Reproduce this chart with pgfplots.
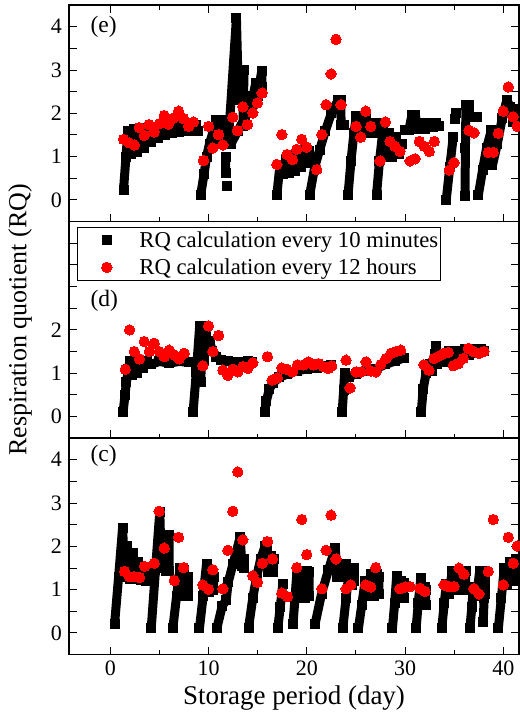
\documentclass[border=0pt]{standalone}
\usepackage{fontspec}
\setmainfont{Liberation Serif}
\usepackage{pgfplots}
\pgfplotsset{compat=1.18}
\pgfplotsset{
  rqpanel/.style={
    scale only axis, width=450pt, height=216.5pt,
    xmin=-4.2, xmax=41.6, ymin=-0.5, ymax=4.5,
    xtick={0,10,20,30,40}, minor xtick={5,15,25,35},
    ytick={0,0.5,1,1.5,2,2.5,3,3.5,4},
    major tick length=8pt, minor tick length=4.5pt,
    tick style={line width=1pt, black},
    axis line style={line width=1.2pt},
    tick align=inside,
    tick label style={font=\fontsize{22pt}{22pt}\selectfont},
    xticklabel style={yshift=-3pt},
    yticklabel style={xshift=-3.5pt},
  },
  blackband/.style={black, line width=9pt, line join=bevel, mark=square*, mark size=4.5pt,
    mark options={solid, line width=0pt, fill=black, draw=black}, unbounded coords=jump},
  reddot/.style={only marks, mark=*, mark size=5.2pt, mark options={fill=red, draw=red, line width=0pt}},
}
\tikzset{panellabel/.style={anchor=base west, font=\fontsize{23.5pt}{23.5pt}\selectfont}}
\begin{document}
\begin{tikzpicture}
\useasboundingbox (-69pt,-61.4pt) rectangle (451pt,654.6pt);
% ---------------- panel (e)
\begin{axis}[rqpanel, at={(0pt,433pt)}, anchor=south west, xtick pos=both,
  xticklabels={}, yticklabels={0,,1,,2,,3,,4}]
\addplot[blackband] coordinates {
(1.35,0.24) (1.6,1.0) (1.8,1.6) (2.1,1.05) (2.4,1.63) (2.75,1.1) (3.1,1.64) (3.45,1.2) (3.8,1.66) (4.15,1.33) (4.5,1.68) (4.85,1.43) (5.2,1.72) (5.55,1.5) (5.9,1.77) (6.25,1.55) (6.6,1.8) (6.95,1.57) (7.3,1.78) (7.65,1.59) (8.0,1.74) (8.35,1.59) (8.7,1.72) (8.9,1.6)
(9,nan)
(9.2,0.12) (9.55,0.6) (9.8,1.0) (10.1,1.3) (10.5,1.6) (10.8,1.85) (11.1,1.3) (11.4,1.85) (11.7,1.3) (12.0,1.3) (12.84,4.2) (13.05,2.3) (13.62,3.0) (13.5,1.7) (14.1,2.4) (14.2,2.0) (14.8,2.7) (14.9,2.3) (15.41,2.97) (15.45,2.6)
(15.5,nan)
(12.3,1.3) (13.0,1.6) (13.7,1.9) (14.4,2.15) (15.0,2.4) (15.45,2.6)
(15.5,nan)
(11.87,0.32)
(11.9,nan)
(11.75,0.62) (11.75,1.0)
(11.8,nan)
(16.95,0.12) (17.25,0.75) (17.6,0.6) (17.9,0.95) (18.2,0.62) (18.5,1.02) (18.8,0.68) (19.1,1.1) (19.4,0.75) (19.7,1.15) (20.0,0.85) (20.25,1.12)
(20.3,nan)
(20.3,0.12) (20.8,0.75) (21.3,1.15) (21.9,1.6) (22.5,2.0) (23.18,2.3) (23.45,2.3) (23.5,1.72) (23.8,1.72)
(23.9,nan)
(24.2,0.12) (24.5,0.9) (24.8,1.55) (25.05,1.93) (25.4,1.6) (25.75,1.93) (26.05,1.93) (26.3,1.55) (26.6,1.77) (26.9,1.55) (27.05,1.77)
(27.1,nan)
(27.1,0.12) (27.4,0.9) (27.75,1.6) (28.05,1.0) (28.35,1.55) (28.7,1.0) (29.05,1.45) (29.4,1.05) (29.72,1.3)
(29.8,nan)
(30.03,1.62) (30.4,1.62) (30.7,1.96) (31.05,1.96) (31.3,1.65) (31.6,1.77) (32.0,1.65) (32.4,1.77) (32.8,1.68) (33.2,1.77) (33.45,1.7)
(33.5,nan)
(34.2,0.01) (34.55,0.75) (34.9,1.45)
(35,nan)
(35.05,1.88) (35.15,2.0)
(35.2,nan)
(36.1,0.1) (36.15,1.2) (36.2,2.19) (36.5,2.19) (36.6,1.92) (37.3,1.92)
(37.4,nan)
(37.47,0.12) (37.9,0.7) (38.3,1.2) (38.8,1.62)
(38.85,nan)
(38.9,0.8) (39.4,1.3) (39.9,1.9) (40.36,2.31) (40.7,2.15) (41.0,1.8) (41.3,2.1) (41.6,1.8)
};
\addplot[reddot] coordinates {
(1.36,1.40) (1.93,1.32) (2.44,1.27) (2.95,1.67) (3.46,1.49) (3.93,1.74) (4.47,1.57) (4.98,1.76) (5.49,1.95) (5.93,1.75) (6.44,1.89) (6.95,2.05) (7.46,1.88) (7.97,1.70) (8.47,1.80) (9.49,0.91) (10.0,1.70) (10.44,1.20) (11.02,1.51) (11.46,1.27) (12.47,1.91) (12.95,1.60) (13.49,2.15) (13.97,1.74) (14.51,2.01) (14.98,2.24) (15.46,2.47) (16.95,0.82) (17.46,1.51) (18.0,1.05) (18.54,0.93) (18.98,1.17) (19.49,1.40) (20.0,1.22) (21.02,0.70) (21.53,1.51) (21.97,2.20) (22.47,2.91) (22.98,3.71) (23.49,2.20) (25.02,1.70) (25.49,1.45) (26.0,2.05) (26.51,1.70) (27.46,0.90) (28.0,1.80) (28.47,1.35) (28.98,1.24) (29.49,1.12) (30.51,0.90) (31.02,0.95) (31.46,1.35) (31.97,1.24) (32.47,1.12) (32.98,1.35) (34.51,0.69) (34.98,0.86) (36.51,1.61) (37.02,1.55) (38.47,1.10) (38.98,1.10) (39.49,1.54) (40.0,2.05) (40.51,2.61) (41.0,1.92) (41.42,1.70)
};
\node[panellabel] at (rel axis cs:0.04,0.875) {(e)};
\end{axis}
% ---------------- panel (d)
\begin{axis}[rqpanel, at={(0pt,216.5pt)}, anchor=south west, xtick pos=left,
  xticklabels={}, yticklabels={0,,1,,2,,,,},
  legend style={at={(rel axis cs:0.0178,0.973)}, anchor=north west, draw=black, line width=0.8pt,
    fill=white, font=\fontsize{22.7pt}{22.7pt}\selectfont, inner xsep=2pt, inner ysep=4pt,
    row sep=9.6pt, nodes={inner sep=0pt, draw=none}},
  legend cell align=left]
\addlegendimage{only marks, mark=square*, mark size=4.5pt, mark options={fill=black, draw=black, line width=0pt},
  legend image code/.code={\path[draw=none,fill=none] (0pt,-4.5pt) rectangle (60pt,4.5pt); \draw[mark repeat=2,mark phase=2] plot coordinates {(0pt,0pt) (27.4pt,0pt) (54.8pt,0pt)};}}
\addlegendentry{RQ calculation every 10 minutes}
\addlegendimage{only marks, mark=*, mark size=5.2pt, mark options={fill=red, draw=red, line width=0pt},
  legend image code/.code={\path[draw=none,fill=none] (0pt,-4.5pt) rectangle (60pt,4.5pt); \draw[mark repeat=2,mark phase=2] plot coordinates {(0pt,0pt) (27.4pt,0pt) (54.8pt,0pt)};}}
\addlegendentry{RQ calculation every 12 hours}
\addplot[blackband, forget plot] coordinates {
(1.31,0.1) (1.5,0.5) (1.65,0.8) (1.85,1.1) (1.99,1.28) (2.2,0.95) (2.5,1.28) (2.75,1.0) (3.05,1.28) (3.35,1.12) (3.7,1.28) (4.1,1.2) (5.0,1.27) (6.0,1.23) (7.0,1.27) (8.0,1.25)
(8.2,nan)
(8.43,0.1) (8.76,1.03) (9.1,2.09) (9.2,0.8) (9.45,2.09) (9.5,1.3) (9.74,2.09) (9.85,1.55) (10.1,1.75) (10.4,1.5) (10.8,1.38) (11.3,1.3) (12.0,1.27) (13.0,1.25) (14.0,1.27) (14.45,1.26)
(14.5,nan)
(15.71,0.1) (15.88,0.35) (16.2,0.64) (16.6,0.78) (17.2,0.9) (18.0,0.98) (19.0,1.05) (20.0,1.1) (21.0,1.13) (22.0,1.17) (22.42,1.18)
(22.5,nan)
(23.6,0.1) (23.75,0.6) (23.85,1.0) (24.3,0.92) (25.0,0.98) (26.0,1.05) (27.0,1.1) (28.0,1.2) (29.0,1.28) (29.88,1.35)
(30,nan)
(31.65,0.1) (31.85,0.64) (32.15,1.0) (32.5,1.2) (32.7,1.05) (33.0,1.45) (33.2,1.62) (33.3,1.2) (33.7,1.45) (34.1,1.25) (34.5,1.5) (34.9,1.3) (35.3,1.52) (35.7,1.38) (36.1,1.55) (36.5,1.42) (36.9,1.55) (37.3,1.47) (37.7,1.55) (38.0,1.5)
};
\addplot[reddot, forget plot] coordinates {
(1.53,1.09) (1.97,2.0) (2.44,1.50) (2.98,1.33) (3.46,1.73) (3.97,1.50) (4.47,1.69) (4.98,1.50) (5.49,1.38) (6.0,1.53) (6.51,1.42) (7.02,1.33) (7.53,1.46) (9.42,1.17) (10.0,2.09) (10.44,1.50) (11.02,1.87) (11.46,1.07) (11.97,0.95) (12.47,1.09) (12.98,1.03) (13.49,1.15) (14.0,1.11) (14.51,1.24) (16.0,1.38) (16.47,0.84) (17.02,0.89) (17.46,1.12) (17.97,1.09) (18.54,1.03) (19.05,1.19) (19.66,1.19) (20.17,1.26) (20.68,1.19) (21.19,1.22) (21.69,1.15) (22.2,1.11) (22.54,1.17) (24.0,1.30) (24.41,0.66) (25.02,1.03) (25.53,1.03) (26.03,1.26) (26.5,1.05) (27.05,1.03) (27.53,1.20) (28.07,1.34) (28.58,1.46) (29.08,1.50) (29.56,1.53) (31.93,1.19) (32.44,1.07) (32.95,1.34) (33.49,1.40) (34.0,1.46) (34.4,1.48) (34.92,1.17) (35.42,1.22) (35.93,1.34) (36.44,1.57) (36.95,1.50) (37.53,1.46) (38.03,1.50)
};
\node[panellabel] at (rel axis cs:0.04,0.608) {(d)};
\end{axis}
% ---------------- panel (c)
\begin{axis}[rqpanel, at={(0pt,0pt)}, anchor=south west, xtick pos=left,
  xticklabels={0,10,20,30,40}, yticklabels={0,,1,,2,,3,,4}]
\addplot[blackband] coordinates {
(0.44,0.21) (0.85,1.3) (1.25,2.42) (1.5,1.3) (1.75,2.01) (2.0,1.25) (2.3,1.85) (2.6,1.25) (2.85,1.65) (3.1,1.22) (3.35,1.45) (3.61,1.21) (3.61,1.4)
(3.7,nan)
(4.17,0.11) (4.6,1.45) (5.04,2.8) (5.2,1.5) (5.45,2.27) (5.7,1.42) (5.98,2.27) (5.98,1.42)
(6.1,nan)
(6.37,0.11) (6.75,0.85) (7.1,1.51) (7.3,0.9) (7.5,1.45) (7.7,0.85) (7.94,1.3) (7.94,0.85)
(8,nan)
(9.08,0.11) (9.45,0.85) (9.8,1.6) (10.0,0.95) (10.25,1.44) (10.5,1.0) (10.55,1.3)
(10.6,nan)
(10.85,0.11) (11.4,0.63) (11.8,0.75) (12.0,1.17) (12.5,1.6) (13.22,2.21) (13.4,1.55) (13.61,1.7) (13.61,1.5)
(13.7,nan)
(14.07,0.11) (14.5,0.8) (14.9,1.3) (15.3,1.7) (15.75,2.0) (15.95,2.0) (16.1,1.4) (16.35,1.78) (16.6,1.4) (16.65,1.7)
(16.7,nan)
(17.05,0.11) (17.3,0.6) (17.55,1.12)
(17.6,nan)
(18.6,0.21) (18.8,0.8) (19.0,1.42) (19.3,0.85) (19.55,1.44) (19.8,0.8) (20.0,1.44) (20.23,0.85) (20.23,1.4)
(20.3,nan)
(20.85,0.21) (21.5,0.9) (22.2,1.45) (22.9,1.96) (23.1,1.3) (23.4,1.6) (23.7,1.3) (23.95,1.6)
(24,nan)
(23.67,0.11) (24.0,0.8) (24.3,1.4) (24.6,1.1) (24.85,1.51) (24.85,1.2)
(24.9,nan)
(25.26,0.11) (25.6,0.65) (25.94,1.2) (26.2,0.85) (26.5,1.36) (26.8,0.85) (27.1,1.36) (27.34,0.9) (27.34,1.3)
(27.4,nan)
(28.72,0.11) (28.95,0.7) (29.15,1.32) (29.4,0.8) (29.6,1.2) (29.85,0.8) (29.85,1.15)
(29.9,nan)
(31.13,0.11) (31.35,0.7) (31.6,1.26) (31.8,0.65) (32.0,1.05) (32.1,0.65) (32.1,1.0)
(32.2,nan)
(33.74,0.11) (34.0,0.7) (34.2,1.13) (34.5,0.9) (34.8,1.44) (35.0,1.0) (35.3,1.44) (35.5,1.0) (35.8,1.44) (36.16,1.0) (36.16,1.44)
(36.2,nan)
(36.6,0.11) (36.8,0.6) (36.95,1.05) (37.3,0.85) (37.6,1.44) (37.9,0.85) (38.19,1.44) (38.19,0.9)
(38.2,nan)
(37.96,0.25) (38.05,0.8)
(38.1,nan)
(39.5,0.11) (39.8,0.8) (40.1,1.5) (40.4,1.1) (40.7,1.65) (41.0,1.2) (41.3,1.7) (41.6,1.3)
};
\addplot[reddot] coordinates {
(1.46,1.42) (1.97,1.30) (2.44,1.30) (2.98,1.28) (3.49,1.54) (4.47,1.61) (4.98,2.81) (5.49,1.96) (6.51,1.21) (6.95,2.21) (7.46,1.51) (9.42,1.11) (10.0,1.01) (10.44,1.46) (11.46,1.02) (11.97,1.91) (12.47,2.81) (12.98,3.72) (13.49,2.15) (14.51,1.32) (14.98,1.17) (15.49,1.61) (16.0,2.11) (16.51,1.71) (17.46,0.92) (18.03,0.84) (18.98,1.51) (19.49,2.62) (20.0,1.81) (21.53,1.02) (21.97,1.91) (22.47,2.72) (22.98,1.71) (24.0,1.02) (24.47,1.11) (26.0,1.11) (26.51,1.06) (27.02,1.51) (29.49,1.02) (30.0,1.06) (30.51,1.07) (31.53,1.03) (32.03,0.96) (33.97,1.11) (34.47,1.07) (34.98,1.07) (35.49,1.50) (36.0,1.36) (37.02,1.02) (37.53,0.90) (38.47,1.42) (38.98,2.62) (40.0,1.11) (40.51,2.21) (41.02,1.61) (41.42,2.01)
};
\node[panellabel] at (rel axis cs:0.04,0.894) {(c)};
\end{axis}
\node[rotate=90, font=\fontsize{26pt}{26pt}\selectfont] at (-49pt,334.6pt) {Respiration quotient (RQ)};
\node[anchor=base, font=\fontsize{27pt}{27pt}\selectfont] at (225pt,-49.4pt) {Storage period (day)};
\end{tikzpicture}
\end{document}
